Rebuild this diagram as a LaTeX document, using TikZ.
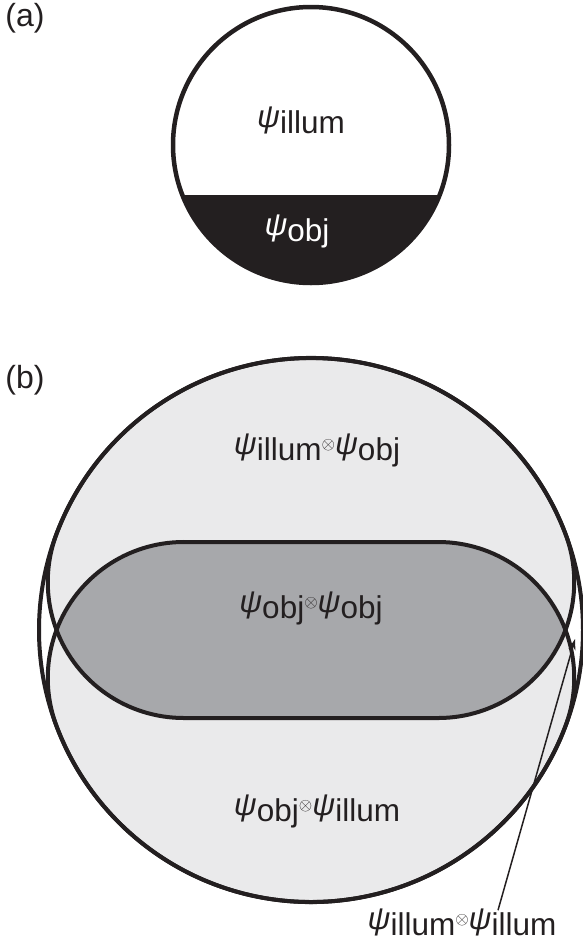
\documentclass[tikz,border=0pt]{standalone}
\usepackage{fontspec}
\setmainfont{Liberation Sans}
\usetikzlibrary{arrows.meta,calc}
\definecolor{lg}{HTML}{EAEAEB}
\definecolor{dg}{HTML}{A7A8AB}
\definecolor{ink}{HTML}{231F20}
\newcommand{\gp}[1]{\raisebox{6pt}{\textit{ψ}}#1}
\newcommand{\gx}{\raisebox{11pt}{\fontsize{19pt}{19pt}\selectfont$\otimes$}}
\begin{document}
\begin{tikzpicture}[x=1pt,y=-1pt,line join=round,
  txt/.style={inner sep=0pt,font=\fontsize{31.5pt}{36pt}\selectfont,text=ink},
  lbl/.style={inner sep=0pt,font=\fontsize{32pt}{36pt}\selectfont,text=ink},
  outl/.style={draw=ink,line width=4pt},
  pointer/.style={draw=ink,line width=1.5pt,-{Stealth[length=11pt,width=7pt]}}]
\useasboundingbox (0,0) rectangle (583,943);
% ---------- (a) ----------
\pgfmathsetmacro{\ax}{311}
\pgfmathsetmacro{\ay}{145}
\pgfmathsetmacro{\ar}{138}
\pgfmathsetmacro{\ah}{50}
\pgfmathsetmacro{\aal}{asin(\ah/\ar)}
\pgfmathsetmacro{\ac}{\ar*cos(\aal)}
\fill[ink] (\ax+\ac,\ay+\ah) arc[start angle=\aal, end angle=180-\aal, radius=\ar] -- cycle;
\node[draw=ink,line width=4.5pt,circle,minimum size=276pt,inner sep=0pt] (pa) at (\ax,\ay) {};
\node[lbl] (la) at (25,18) {(a)};
\node[txt] (ti) at (301,120) {\gp{illum}};
\node[txt,text=white] (to) at (297,231) {\gp{obj}};
% ---------- (b) ----------
\pgfmathsetmacro{\Xo}{311}
\pgfmathsetmacro{\Yo}{630}
\pgfmathsetmacro{\rr}{136}
\pgfmathsetmacro{\hh}{48}
\pgfmathsetmacro{\al}{asin(\hh/\rr)}
\pgfmathsetmacro{\cc}{\rr*cos(\al)}
\pgfmathsetmacro{\RR}{2*\rr}
\coordinate (O) at (\Xo,\Yo);
\coordinate (PL) at (\Xo-2*\cc,\Yo);
\coordinate (PR) at (\Xo+2*\cc,\Yo);
\coordinate (UL) at (\Xo-2*\cc,\Yo-2*\hh);
\coordinate (UR) at (\Xo+2*\cc,\Yo-2*\hh);
\coordinate (LL) at (\Xo-2*\cc,\Yo+2*\hh);
\coordinate (LR) at (\Xo+2*\cc,\Yo+2*\hh);
\coordinate (TL) at (\Xo-\cc,\Yo-\rr+\hh);
\coordinate (TR) at (\Xo+\cc,\Yo-\rr+\hh);
\coordinate (BL) at (\Xo-\cc,\Yo+\rr-\hh);
\coordinate (BR) at (\Xo+\cc,\Yo+\rr-\hh);
% fills
\fill[white] (O) circle[radius=\RR];
\fill[lg] (UL) arc[start angle=180+\al, end angle=360-\al, radius=\RR]
  arc[start angle=-\al, end angle=\al, radius=\rr] -- (PL)
  arc[start angle=180-\al, end angle=180+\al, radius=\rr] -- cycle;
\fill[lg] (LR) arc[start angle=\al, end angle=180-\al, radius=\RR]
  arc[start angle=180-\al, end angle=180+\al, radius=\rr] -- (PR)
  arc[start angle=-\al, end angle=\al, radius=\rr] -- cycle;
\fill[dg] (TL) -- (TR) arc[start angle=270, end angle=360-\al, radius=\rr]
  arc[start angle=\al, end angle=90, radius=\rr] -- (BL)
  arc[start angle=90, end angle=180-\al, radius=\rr]
  arc[start angle=180+\al, end angle=270, radius=\rr] -- cycle;
% outlines
\draw[outl] (O) circle[radius=\RR];
\draw[outl] (PL) arc[start angle=180-\al, end angle=180+\al, radius=\rr]
  arc[start angle=180+\al, end angle=360-\al, radius=\RR]
  arc[start angle=-\al, end angle=\al, radius=\rr];
\draw[outl] (PR) arc[start angle=-\al, end angle=\al, radius=\rr]
  arc[start angle=\al, end angle=180-\al, radius=\RR]
  arc[start angle=180-\al, end angle=180+\al, radius=\rr];
\draw[outl] (TL) -- (TR) arc[start angle=270, end angle=360-\al, radius=\rr]
  arc[start angle=\al, end angle=90, radius=\rr] -- (BL)
  arc[start angle=90, end angle=180-\al, radius=\rr]
  arc[start angle=180+\al, end angle=270, radius=\rr] -- cycle;
% labels
\node[lbl] (lb) at (25,380) {(b)};
\node[txt] (t1) at (317,450) {\gp{illum}\gx\gp{obj}};
\node[txt] (t2) at (311,608) {\gp{obj}\gx\gp{obj}};
\node[txt] (t3) at (317,811) {\gp{obj}\gx\gp{illum}};
\node[txt] (t4) at (462,922) {\gp{illum}\gx\gp{illum}};
\coordinate (tip) at (575,639);
\draw[pointer] ([xshift=36pt,yshift=-2pt]t4.north) -- (tip);
\end{tikzpicture}
\end{document}
